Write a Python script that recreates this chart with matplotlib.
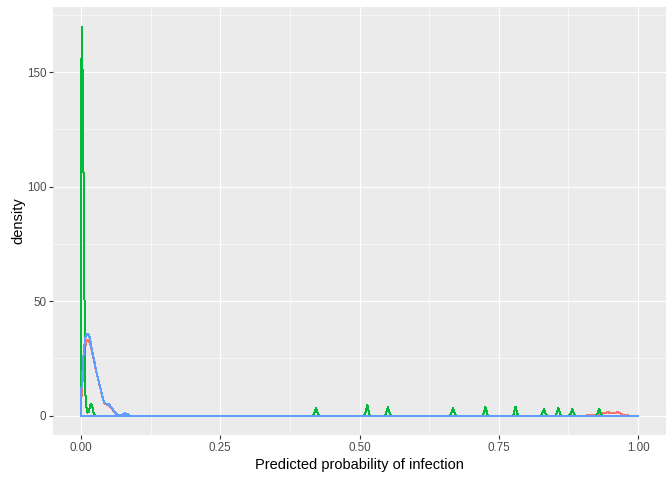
import matplotlib
matplotlib.use("Agg")
import matplotlib.pyplot as plt

# Density curves (x = predicted probability, y = density)

# red group
red_x = [0.000, 0.002, 0.004, 0.006, 0.008, 0.010, 0.012, 0.014, 0.016, 0.018,
         0.020, 0.022, 0.024, 0.026, 0.028, 0.030, 0.032, 0.034, 0.036, 0.038,
         0.040, 0.042, 0.044, 0.046, 0.048, 0.050, 0.052, 0.054, 0.056, 0.058,
         0.060, 0.062, 0.064, 0.066,
         0.908, 0.910, 0.930, 0.935, 0.941, 0.947, 0.953, 0.958, 0.962, 0.967,
         0.971, 0.980, 0.982, 1.000]
red_y = [5.0, 11.0, 19.0, 26.0, 30.5, 32.5, 33.0, 32.8, 31.8, 30.0,
         27.8, 25.5, 23.5, 21.0, 18.8, 16.8, 14.8, 12.8, 11.0, 8.8,
         6.8, 5.5, 5.0, 4.8, 4.6, 4.4, 4.0, 3.4, 2.8, 2.2,
         1.5, 0.9, 0.3, 0.0,
         0.0, 0.4, 0.4, 0.9, 1.3, 1.4, 0.9, 1.0, 1.4, 1.3,
         0.4, 0.4, 0.0, 0.0]

# green group: tall spike at zero plus single-observation bumps
green_x = [0.000, 0.002, 0.004, 0.006, 0.008, 0.010, 0.012, 0.014, 0.016, 0.018,
           0.020, 0.022, 0.024, 0.026,
           0.416, 0.418, 0.420, 0.422, 0.424, 0.426, 0.428,
           0.508, 0.510, 0.512, 0.514, 0.516, 0.518, 0.520,
           0.545, 0.547, 0.549, 0.551, 0.553, 0.555, 0.557,
           0.662, 0.664, 0.666, 0.668, 0.670, 0.672, 0.674,
           0.720, 0.722, 0.724, 0.726, 0.728, 0.730, 0.732,
           0.774, 0.776, 0.778, 0.780, 0.782, 0.784, 0.786,
           0.825, 0.827, 0.829, 0.831, 0.833, 0.835, 0.837,
           0.851, 0.853, 0.855, 0.857, 0.859, 0.861, 0.863,
           0.876, 0.878, 0.880, 0.882, 0.884, 0.886, 0.888,
           0.924, 0.926, 0.928, 0.930, 0.932, 0.934, 0.936,
           1.000]
green_y = [137.0, 170.0, 130.0, 65.0, 10.0, 3.5, 1.3, 1.5, 3.5, 5.2,
           4.5, 2.0, 0.3, 0.0,
           0.0, 0.3, 1.9, 3.3, 1.7, 0.3, 0.0,
           0.0, 0.4, 2.6, 4.8, 2.4, 0.4, 0.0,
           0.0, 0.3, 2.1, 3.8, 1.9, 0.3, 0.0,
           0.0, 0.3, 1.9, 3.3, 1.7, 0.3, 0.0,
           0.0, 0.3, 2.1, 3.8, 1.9, 0.3, 0.0,
           0.0, 0.3, 2.1, 3.8, 1.9, 0.3, 0.0,
           0.0, 0.3, 1.6, 2.9, 1.5, 0.3, 0.0,
           0.0, 0.3, 1.9, 3.3, 1.7, 0.3, 0.0,
           0.0, 0.3, 1.6, 2.9, 1.5, 0.3, 0.0,
           0.0, 0.3, 1.6, 2.9, 1.5, 0.3, 0.0,
           0.0]

# blue group
blue_x = [0.000, 0.002, 0.004, 0.006, 0.008, 0.010, 0.012, 0.014, 0.016, 0.018,
          0.020, 0.022, 0.024, 0.026, 0.028, 0.030, 0.032, 0.034, 0.036, 0.038,
          0.040, 0.042, 0.044, 0.046, 0.048, 0.050, 0.052, 0.054, 0.056, 0.058,
          0.060, 0.062, 0.064, 0.066, 0.068, 0.070, 0.072, 0.074, 0.076, 0.078,
          0.080, 0.082, 0.084, 0.086, 0.088, 1.000]
blue_y = [8.5, 15.0, 24.0, 30.0, 34.0, 35.5, 35.7, 35.2, 34.0, 31.5,
          28.5, 26.0, 24.0, 21.5, 19.0, 17.0, 15.0, 13.0, 11.3, 9.0,
          7.0, 5.8, 5.3, 5.2, 5.2, 5.0, 4.5, 3.8, 3.2, 2.5,
          1.8, 1.2, 0.6, 0.3, 0.3, 0.3, 0.3, 0.3, 0.6, 0.9,
          0.9, 0.7, 0.6, 0.3, 0.0, 0.0]

x_ticks = [0.00, 0.25, 0.50, 0.75, 1.00]
x_tick_labels = ["0.00", "0.25", "0.50", "0.75", "1.00"]
y_ticks = [0, 50, 100, 150]

plt.rcParams['font.family'] = ['Liberation Sans', 'DejaVu Sans']

fig = plt.figure(figsize=(6.72, 4.8), dpi=100)
ax = fig.add_axes([53 / 672, 45 / 480, 613 / 672, 428 / 480])
ax.set_facecolor('#EBEBEB')

# closed outline of each density polygon (curve, then back along y = 0),
# drawn in group order so blue ends up on top; 1px crisp lines as in the
# reference, no antialiasing so blue fully covers the shared baseline
for z, (xs, ys, col) in enumerate([(red_x, red_y, '#F8766D'),
                                   (green_x, green_y, '#00BA38'),
                                   (blue_x, blue_y, '#619CFF')]):
    px = [xs[0]] + list(xs) + [xs[-1], xs[0]]
    py = [0] + list(ys) + [0, 0]
    ax.plot(px, py, color=col, linewidth=0.72, antialiased=False,
            zorder=3 + z)

ymax = max(max(red_y), max(green_y), max(blue_y))
ax.set_xlim(-0.05, 1.05)
ax.set_ylim(-0.05 * ymax, 1.05 * ymax)

ax.set_xticks(x_ticks)
ax.set_xticklabels(x_tick_labels)
ax.set_yticks(y_ticks)
ax.set_xticks([0.125, 0.375, 0.625, 0.875], minor=True)
ax.set_yticks([25, 75, 125, 175], minor=True)

ax.grid(which='major', color='white', linewidth=0.8)
ax.grid(which='minor', color='white', linewidth=0.4)
ax.set_axisbelow(True)
for s in ax.spines.values():
    s.set_visible(False)

ax.tick_params(which='major', length=2.7, width=0.8, color='#333333',
               labelcolor='#4D4D4D', labelsize=8.4, pad=2)
ax.tick_params(which='minor', length=0)

ax.set_xlabel('Predicted probability of infection', fontsize=10.5, labelpad=3)
ax.set_ylabel('density', fontsize=10.5, labelpad=1)

fig.savefig('out.png', dpi=100)
